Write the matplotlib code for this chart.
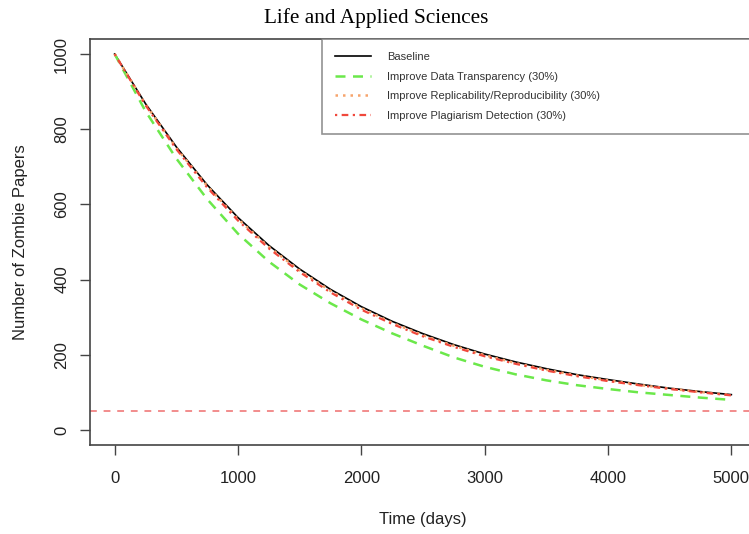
import numpy as np
import matplotlib
matplotlib.use("Agg")
import matplotlib.pyplot as plt

plt.rcParams["font.family"] = ["Liberation Sans", "DejaVu Sans"]

# ── Data ──────────────────────────────────────────────────────────────────────
days = [0, 250, 500, 750, 1000, 1250, 1500, 1750, 2000, 2250, 2500,
        2750, 3000, 3250, 3500, 3750, 4000, 4250, 4500, 4750, 5000]

baseline = [1000, 868, 753, 652, 565, 491, 428, 374, 328, 289, 256,
            227, 202, 181, 163, 147, 134, 122, 111, 102, 94]
transparency = [1000, 848, 722, 614, 522, 448, 387, 337, 294, 257, 224,
                193, 168, 148, 132, 119, 109, 100, 93, 86, 80]
replicability = [1000, 866, 750, 649, 561, 487, 424, 370, 324, 285, 252,
                 224, 199, 178, 160, 145, 132, 120, 110, 101, 93]
plagiarism = [1000, 864, 747, 645, 557, 483, 420, 366, 320, 282, 249,
              221, 196, 176, 158, 143, 130, 119, 109, 100, 92]
threshold = 50

labels = ["Baseline", "Improve Data Transparency (30%)",
          "Improve Replicability/Reproducibility (30%)",
          "Improve Plagiarism Detection (30%)"]

# ── Figure ────────────────────────────────────────────────────────────────────
fig = plt.figure(figsize=(7.49, 5.34), dpi=100)
W, H = 749, 534
ax = fig.add_axes([90 / W, 1 - 445 / H, 666 / W, 406 / H])

ax.plot(days, baseline, color="black", lw=1.2, ls="-", label=labels[0])
ax.plot(days, transparency, color="#6be84a", lw=1.8, ls=(0, (4, 3)), label=labels[1])
ax.plot(days, replicability, color="#f7a46c", lw=1.8, ls=(0, (1, 2)), label=labels[2])
ax.plot(days, plagiarism, color="#f0483c", lw=1.6, ls=(0, (1, 2, 3, 2)), label=labels[3])
ax.axhline(threshold, color="#f28c8c", lw=1.4, ls=(0, (3.5, 3.5)))

ax.set_xlim(-200, 5200)
ax.set_ylim(-40, 1040)
ax.set_xticks([0, 1000, 2000, 3000, 4000, 5000])
ax.set_yticks([0, 200, 400, 600, 800, 1000])
ax.tick_params(direction="out", length=7, width=1, color="#444444",
               labelsize=12, labelcolor="#222222")
ax.tick_params(axis="x", pad=11.5)
ax.tick_params(axis="y", pad=8)
for lab in ax.get_yticklabels():
    lab.set_rotation(90)
    lab.set_va("center")
for sp in ax.spines.values():
    sp.set_color("#444444")
    sp.set_linewidth(1.2)

ax.set_xlabel("Time (days)", fontsize=12, color="#222222", labelpad=19)
ax.set_ylabel("Number of Zombie Papers", fontsize=12, color="#222222", labelpad=19)

fig.text(0.5 + 2 / W, 1 - 18 / H, "Life and Applied Sciences",
         family=["Liberation Serif", "DejaVu Serif"], fontsize=15.3,
         ha="center", va="center")

leg = ax.legend(loc="upper right", bbox_to_anchor=(0.348, 0.0, 0.652, 1.0),
                mode="expand", borderaxespad=0, fontsize=8, frameon=True,
                fancybox=False, edgecolor="#777777", handlelength=3.2,
                handletextpad=1.5, borderpad=1.2, labelspacing=0.85)
leg.get_frame().set_linewidth(1.2)
for t in leg.get_texts():
    t.set_color("#333333")

fig.savefig("out.png", dpi=100)
